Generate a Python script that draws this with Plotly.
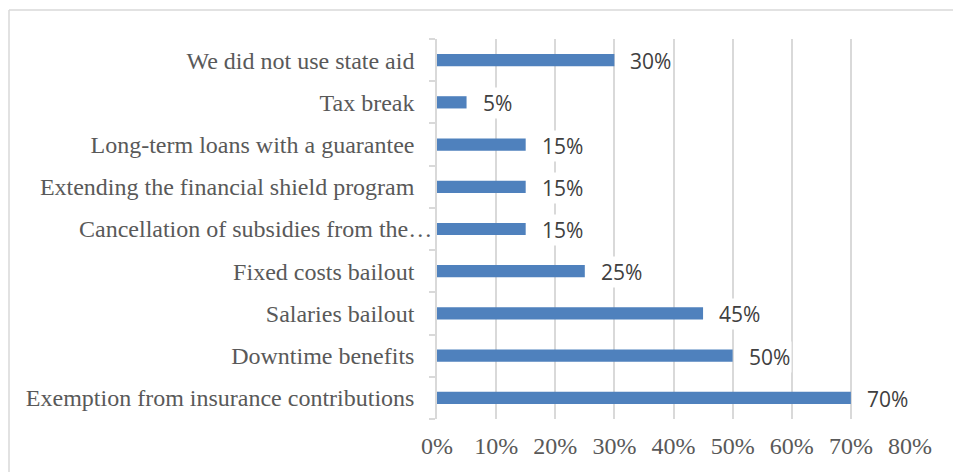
import plotly.graph_objects as go

# Survey: forms of state aid used by companies (share of respondents)
categories = [
    "We did not use state aid",
    "Tax break",
    "Long-term loans with a guarantee",
    "Extending the financial shield program",
    "Cancellation of subsidies from the…",
    "Fixed costs bailout",
    "Salaries bailout",
    "Downtime benefits",
    "Exemption from insurance contributions",
]
shares = [0.30, 0.05, 0.15, 0.15, 0.15, 0.25, 0.45, 0.50, 0.70]
x_ticks = [0.0, 0.1, 0.2, 0.3, 0.4, 0.5, 0.6, 0.7, 0.8]

# the truncated label runs right up to the axis, so it is drawn separately
truncated = "Cancellation of subsidies from the…"

W, H = 953, 472
L, R, T, B = 437, 43, 39, 53
plot_w = W - L - R
plot_h = H - T - B

BAR = "#4F81BD"
GRID = "#D9D9D9"
TEXT = "#595959"
SERIF = "Liberation Serif, Times New Roman, serif"

fig = go.Figure()
fig.add_trace(go.Bar(
    x=shares,
    y=categories,
    orientation="h",
    width=0.29,
    marker=dict(color=BAR, line=dict(width=0)),
    hoverinfo="skip",
))

# value labels to the right of each bar, on a white box so gridlines break behind them
annotations = [
    dict(
        x=v, y=c, xref="x", yref="y",
        text=f"{round(v * 100)}%",
        showarrow=False, xanchor="left", yanchor="middle",
        xshift=14, yshift=-1,
        bgcolor="white", borderpad=1,
        font=dict(family="Open Sans, Liberation Sans, sans-serif", size=21, color="#404040"),
    )
    for c, v in zip(categories, shares)
]
annotations.append(dict(
    x=0, y=truncated, xref="paper", yref="y",
    text=truncated, showarrow=False,
    xanchor="right", yanchor="middle", xshift=-3,
    font=dict(family=SERIF, size=24, color=TEXT),
))

# chart-area frame (left and top edges)
px_to_paper_x = lambda px: (px - L) / plot_w
px_to_paper_y = lambda py: (H - B - py) / plot_h
frame = dict(color=GRID, width=1.5)
shapes = [
    dict(type="line", xref="paper", yref="paper",
         x0=px_to_paper_x(9), x1=px_to_paper_x(9),
         y0=px_to_paper_y(10), y1=px_to_paper_y(H + 5), line=frame),
    dict(type="line", xref="paper", yref="paper",
         x0=px_to_paper_x(9), x1=px_to_paper_x(W + 5),
         y0=px_to_paper_y(10), y1=px_to_paper_y(10), line=frame),
]

fig.update_layout(
    width=W, height=H,
    margin=dict(l=L, r=R, t=T, b=B, pad=0),
    paper_bgcolor="white", plot_bgcolor="white",
    showlegend=False,
    annotations=annotations,
    shapes=shapes,
    xaxis=dict(
        range=[0, 0.8],
        tickvals=x_ticks,
        tickformat=".0%",
        showgrid=True, gridcolor=GRID, gridwidth=1.5,
        zeroline=False, showline=False, ticks="",
        ticklabelstandoff=10,
        tickfont=dict(family=SERIF, size=24, color=TEXT),
        fixedrange=True,
    ),
    yaxis=dict(
        autorange="reversed",
        type="category",
        tickmode="array",
        tickvals=categories,
        ticktext=["" if c == truncated else c for c in categories],
        showgrid=False, zeroline=False,
        showline=True, linecolor=GRID, linewidth=1.5,
        ticks="outside", tickson="boundaries", ticklen=6,
        tickcolor=GRID, tickwidth=1.5,
        ticklabelstandoff=16,
        tickfont=dict(family=SERIF, size=24, color=TEXT),
        fixedrange=True,
    ),
)

fig.write_html("out.html", config={"displayModeBar": False})
